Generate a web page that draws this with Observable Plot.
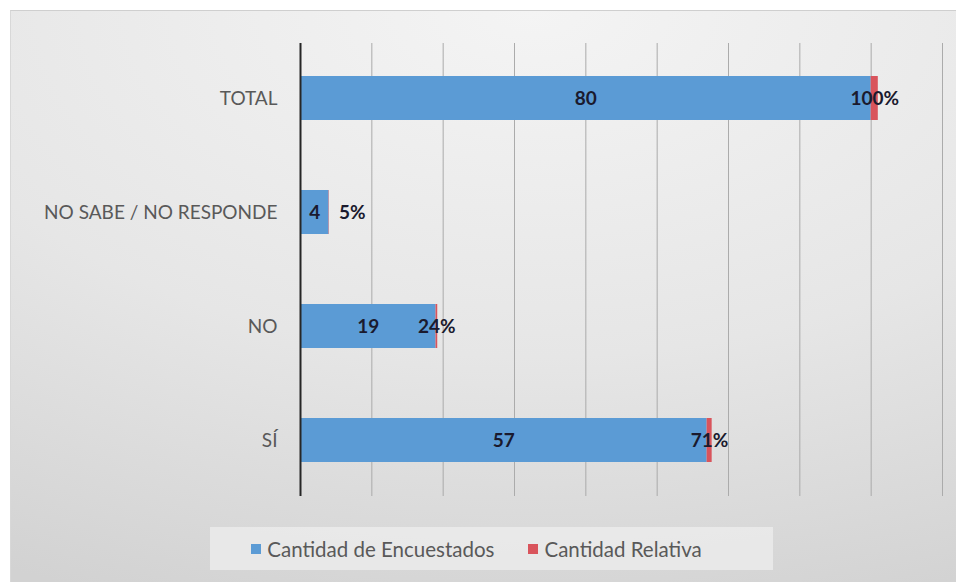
<!DOCTYPE html>
<html>
<head>
<meta charset="utf-8">
<script src="https://cdn.jsdelivr.net/npm/d3@7"></script>
<script src="https://cdn.jsdelivr.net/npm/@observablehq/plot@0.6"></script>
<style>
  html, body { margin: 0; padding: 0; background: #ffffff; }
  #panel {
    position: absolute; left: 10px; top: 10px; width: 946px; height: 572px;
    background: radial-gradient(ellipse 120% 110% at 55% 0%, #f4f4f4 0%, #e6e6e6 55%, #d2d2d2 100%);
    border-top: 1px solid #cfcfcf; border-left: 1px solid #d8d8d8; box-sizing: border-box;
    font-family: Lato, "Open Sans", sans-serif;
  }
  #chart { position: absolute; left: -1px; top: -1px; }
  #legend {
    position: absolute; left: 199px; top: 516px; width: 563px; height: 43px;
    box-sizing: border-box; padding-right: 30px;
    background: rgba(238,238,238,0.75);
    display: flex; align-items: center; justify-content: center; gap: 34px;
    font-size: 20.5px; color: #595959;
  }
  .item { display: flex; align-items: center; gap: 6px; }
  .sw { width: 10px; height: 10px; display: inline-block; }
</style>
</head>
<body>
<div id="panel">
  <div id="chart"></div>
  <div id="legend"></div>
</div>
<script>
const categories = ["SÍ", "NO", "NO SABE / NO RESPONDE", "TOTAL"];
const encuestados = [57, 19, 4, 80];
const relativa = [0.71, 0.24, 0.05, 1.00];
const relativaLabels = ["71%", "24%", "5%", "100%"];
const xTicks = [0, 10, 20, 30, 40, 50, 60, 70, 80, 90];
const seriesNames = ["Cantidad de Encuestados", "Cantidad Relativa"];
const seriesColors = ["#5b9bd5", "#d9545c"];

const rows = categories.map((c, i) => ({
  cat: c,
  n: encuestados[i],
  rel: relativa[i],
  relLabel: relativaLabels[i]
}));

const chart = Plot.plot({
  width: 946,
  height: 500,
  marginLeft: 290,
  marginRight: 14,
  marginTop: 33,
  marginBottom: 14,
  style: { background: "transparent", fontFamily: "Lato, 'Open Sans', sans-serif" },
  x: { domain: [0, 90], ticks: xTicks, axis: null },
  y: { domain: [...categories].reverse(), paddingInner: 0.614, paddingOuter: 0.29, label: null },
  marks: [
    Plot.gridX(xTicks.filter(t => t > 0), { stroke: "#ababab", strokeOpacity: 1, strokeWidth: 1 }),
    Plot.axisY({ tickSize: 0, tickPadding: 23, fontSize: 19, fill: "#595959", label: null }),
    Plot.barX(rows, { y: "cat", x1: 0, x2: "n", fill: seriesColors[0] }),
    Plot.barX(rows, { y: "cat", x1: "n", x2: d => d.n + d.rel, fill: seriesColors[1] }),
    Plot.ruleX([0], { stroke: "#262626", strokeWidth: 2 }),
    Plot.text(rows, { y: "cat", x: d => d.n / 2, text: d => String(d.n), fontSize: 19, fontWeight: "bold", fill: "#1a1a2e" }),
    Plot.text(rows.filter(d => d.rel >= 0.1), { y: "cat", x: d => d.n + d.rel / 2, text: "relLabel", fontSize: 19, fontWeight: "bold", fill: "#1a1a2e" }),
    Plot.text(rows.filter(d => d.rel < 0.1), { y: "cat", x: d => d.n + d.rel / 2, dx: 23, text: "relLabel", fontSize: 19, fontWeight: "bold", fill: "#1a1a2e" })
  ]
});
document.getElementById("chart").appendChild(chart);

const legend = document.getElementById("legend");
seriesNames.forEach((name, i) => {
  const item = document.createElement("div");
  item.className = "item";
  const sw = document.createElement("span");
  sw.className = "sw";
  sw.style.background = seriesColors[i];
  const t = document.createElement("span");
  t.textContent = name;
  item.appendChild(sw);
  item.appendChild(t);
  legend.appendChild(item);
});
</script>
</body>
</html>
